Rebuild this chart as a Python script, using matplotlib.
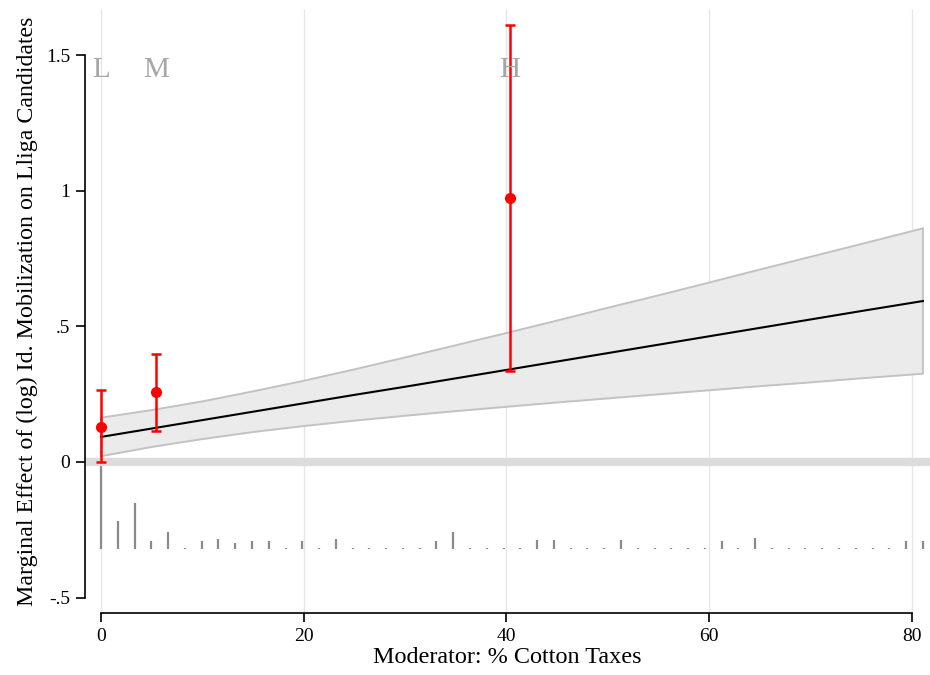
import matplotlib

matplotlib.use("Agg")
import matplotlib.pyplot as plt
import numpy as np

plt.rcParams["font.family"] = ["Liberation Serif", "DejaVu Serif"]

# marginal effect line and 95% band (moderator, estimate, lower, upper)
band_x = [0, 5, 10, 15, 20, 25, 30, 35, 40, 45, 50, 55, 60, 65, 70, 75, 81.1]
band_mid = [0.092, 0.123, 0.154, 0.185, 0.216, 0.247, 0.277, 0.308, 0.339,
            0.370, 0.401, 0.432, 0.463, 0.494, 0.525, 0.556, 0.593]
band_lo = [0.021, 0.055, 0.084, 0.110, 0.132, 0.152, 0.170, 0.187, 0.203,
           0.219, 0.234, 0.249, 0.264, 0.279, 0.293, 0.308, 0.325]
band_hi = [0.163, 0.191, 0.223, 0.260, 0.299, 0.341, 0.385, 0.430, 0.475,
           0.521, 0.568, 0.614, 0.661, 0.709, 0.756, 0.803, 0.861]

# binned estimates (Low / Medium / High terciles)
bin_labels = ["L", "M", "H"]
bin_x = [0.0, 5.45, 40.35]
bin_est = [0.130, 0.256, 0.972]
bin_lo = [0.000, 0.114, 0.335]
bin_hi = [0.265, 0.397, 1.611]

# distribution of the moderator (spike heights, in y units above the base)
hist_base = -0.32
hist_h = [0.328, 0.103, 0.170, 0.030, 0.063, 0.004, 0.030, 0.037, 0.022, 0.030,
          0.030, 0.004, 0.030, 0.004, 0.037, 0.004, 0.004, 0.004, 0.004, 0.004,
          0.030, 0.063, 0.004, 0.004, 0.004, 0.004, 0.033, 0.033, 0.004, 0.004,
          0.004, 0.033, 0.004, 0.004, 0.004, 0.004, 0.004, 0.030, 0.004, 0.041,
          0.004, 0.004, 0.004, 0.004, 0.004, 0.004, 0.004, 0.004, 0.030, 0.030]
hist_x = np.linspace(0, 81.1, len(hist_h))

fig = plt.figure(figsize=(9.3, 6.75), dpi=100, facecolor="white")
ax = fig.add_axes([0.0914, 0.0919, 0.9086, 0.8933])

ax.set_xlim(-1.58, 81.8)
ax.set_ylim(-0.557, 1.666)

for gx in [0, 20, 40, 60, 80]:
    ax.axvline(gx, color="#e6e6e6", lw=1.0, zorder=0)

# histogram spikes
ax.vlines(hist_x, hist_base, hist_base + np.array(hist_h), color="#8a8a8a", lw=1.6, zorder=1)

# reference line at zero
ax.axhline(0, color="#dcdcdc", lw=6, zorder=1.5)

# confidence band
ax.fill(np.r_[band_x, band_x[::-1]], np.r_[band_hi, band_lo[::-1]],
        facecolor="#ebebeb", edgecolor="#c2c2c2", lw=1.4, zorder=2)
ax.plot(band_x, band_mid, color="black", lw=1.5, zorder=3)

# binned estimates
yerr = [np.array(bin_est) - np.array(bin_lo), np.array(bin_hi) - np.array(bin_est)]
ax.errorbar(bin_x, bin_est, yerr=yerr, fmt="o", color="red", ms=7, lw=1.8,
            capsize=3.5, capthick=1.8, zorder=4)
for lab, bx in zip(bin_labels, bin_x):
    ax.text(bx, 1.445, lab, color="#a6a6a6", fontsize=21, ha="center", va="center", zorder=5)

for s in ("top", "right"):
    ax.spines[s].set_visible(False)
ax.spines["left"].set_bounds(-0.5, 1.5)
ax.spines["bottom"].set_bounds(0, 80)
ax.spines["left"].set_linewidth(1.2)
ax.spines["bottom"].set_linewidth(1.2)

ax.set_yticks([-0.5, 0, 0.5, 1, 1.5])
ax.set_yticklabels(["-.5", "0", ".5", "1", "1.5"])
ax.set_xticks([0, 20, 40, 60, 80])
ax.tick_params(direction="out", length=6.5, width=1.2, labelsize=14, pad=4)

ax.set_xlabel("Moderator: % Cotton Taxes", fontsize=17.4, labelpad=2)
ax.set_ylabel("Marginal Effect of (log) Id. Mobilization on Lliga Candidates", fontsize=17.2, labelpad=6)

fig.savefig("out.png", dpi=100, facecolor="white")
